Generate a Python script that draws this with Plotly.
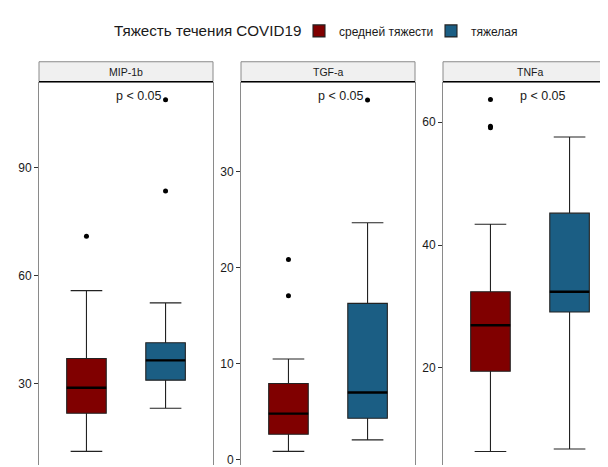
import plotly.graph_objects as go

# ---------------- data ----------------
panels = ["MIP-1b", "TGF-a", "TNFa"]
groups = ["средней тяжести", "тяжелая"]
colors = ["#800000", "#1B5E84"]
legend_title = "Тяжесть течения COVID19"

# per panel: [moderate, severe]
q1 = [[21.7, 30.9], [2.66, 4.33], [19.45, 29.1]]
median = [[28.8, 36.4], [4.8, 7.0], [26.96, 32.4]]
q3 = [[36.9, 41.3], [7.95, 16.3], [32.4, 45.2]]
lower = [[11.1, 23.1], [0.87, 2.07], [6.4, 6.8]]
upper = [[55.8, 52.4], [10.5, 24.7], [43.4, 57.6]]
outliers = [
    [[70.9], [83.5, 108.9]],
    [[20.86, 17.1], [37.5]],
    [[63.7, 59.35, 59.1], []],
]
p_labels = ["p < 0.05", "p < 0.05", "p < 0.05"]
y_ticks = [[30, 60, 90], [0, 10, 20, 30], [20, 40, 60]]
y_ranges = [[7.3, 113.9], [-0.55, 39.4], [4.2, 66.6]]

# ---------------- layout geometry ----------------
OFF = 8                      # page body margin
W, H = 608 - OFF, 467 - OFF  # figure size
panel_px = [(39, 213), (241, 415), (443, 608)]   # target page pixels
px_per_unit = 79.1
top_px, strip_top_px = 82, 62
box_w = 0.5


def fx(X):
    return (X - OFF) / W


def fy(Y):
    return 1 - (Y - OFF) / H


fig = go.Figure()
for i in range(3):
    ax = "" if i == 0 else str(i + 1)
    xa, ya = "x" + ax, "y" + ax
    for g in range(2):
        xpos = g + 1
        fig.add_trace(go.Box(
            x=[xpos], q1=[q1[i][g]], median=[median[i][g]], q3=[q3[i][g]],
            lowerfence=[lower[i][g]], upperfence=[upper[i][g]],
            width=box_w, whiskerwidth=0.8, boxpoints=False,
            fillcolor=colors[g], line=dict(color="#222222", width=1.1),
            name=groups[g], legendgroup=groups[g], showlegend=(i == 0),
            legend="legend" if g == 0 else "legend2",
            xaxis=xa, yaxis=ya, hoverinfo="skip",
        ))
        # thicker median line
        fig.add_trace(go.Scatter(
            x=[xpos - box_w / 2, xpos + box_w / 2],
            y=[median[i][g], median[i][g]], mode="lines",
            line=dict(color="black", width=2.4), showlegend=False,
            xaxis=xa, yaxis=ya, hoverinfo="skip",
        ))
        if outliers[i][g]:
            fig.add_trace(go.Scatter(
                x=[xpos] * len(outliers[i][g]), y=outliers[i][g], mode="markers",
                marker=dict(color="black", size=5), showlegend=False,
                xaxis=xa, yaxis=ya, hoverinfo="skip",
            ))

    x0p, x1p = panel_px[i]
    width_units = (x1p - x0p) / px_per_unit
    fig.layout["xaxis" + ax] = dict(
        domain=[fx(x0p), min(1, fx(x1p))], range=[0.4, 0.4 + width_units],
        showticklabels=False, showgrid=False, zeroline=False, ticks="",
        anchor=ya,
    )
    fig.layout["yaxis" + ax] = dict(
        domain=[0, fy(top_px)], range=y_ranges[i],
        tickvals=y_ticks[i], ticks="outside", ticklen=4, tickcolor="#333333",
        showgrid=False, zeroline=False, showline=True, linecolor="#8a8a8a",
        linewidth=1, mirror=(i < 2), anchor=xa, ticklabeloverflow="allow",
        tickfont=dict(size=12, color="#1a1a1a"),
    )
    # strip
    x1s = x1p + (10 if i == 2 else 0)
    fig.add_shape(type="rect", xref="paper", yref="paper",
                  x0=fx(x0p), x1=fx(x1s), y0=fy(top_px), y1=fy(strip_top_px),
                  fillcolor="#F0F0F0", line=dict(color="#8a8a8a", width=1), layer="above")
    fig.add_shape(type="line", xref="paper", yref="paper",
                  x0=fx(x0p), x1=fx(x1s), y0=fy(top_px), y1=fy(top_px),
                  line=dict(color="black", width=1.5), layer="above")
    fig.add_annotation(text=panels[i], xref="paper", yref="paper",
                       x=fx(x0p + 87), y=fy((top_px + strip_top_px) / 2),
                       showarrow=False, font=dict(size=10.5, color="#1a1a1a"),
                       xanchor="center", yanchor="middle")
    fig.add_annotation(text=p_labels[i], xref=xa, yref="paper",
                       x=1.67, y=fy(96.5),
                       showarrow=False, font=dict(size=12.5, color="#1a1a1a"),
                       xanchor="center", yanchor="middle")

# legend title
fig.add_annotation(text=legend_title, xref="paper", yref="paper",
                   x=fx(112), y=fy(31), xanchor="left", yanchor="middle",
                   showarrow=False, font=dict(size=15.2, color="#1a1a1a"))

fig.update_layout(
    width=W, height=H, margin=dict(l=0, r=0, t=0, b=0),
    plot_bgcolor="white", paper_bgcolor="white",
    font=dict(family="Liberation Sans, Arial, sans-serif", color="#1a1a1a"),
    legend=dict(
        orientation="h", x=fx(299), xanchor="left", y=fy(31), yanchor="middle",
        font=dict(size=12), itemwidth=30, tracegroupgap=0,
        bgcolor="rgba(0,0,0,0)",
    ),
    legend2=dict(
        orientation="h", x=fx(431), xanchor="left", y=fy(31), yanchor="middle",
        font=dict(size=12), itemwidth=30, tracegroupgap=0,
        bgcolor="rgba(0,0,0,0)",
    ),
    boxmode="overlay",
)

fig.write_html("out.html")
